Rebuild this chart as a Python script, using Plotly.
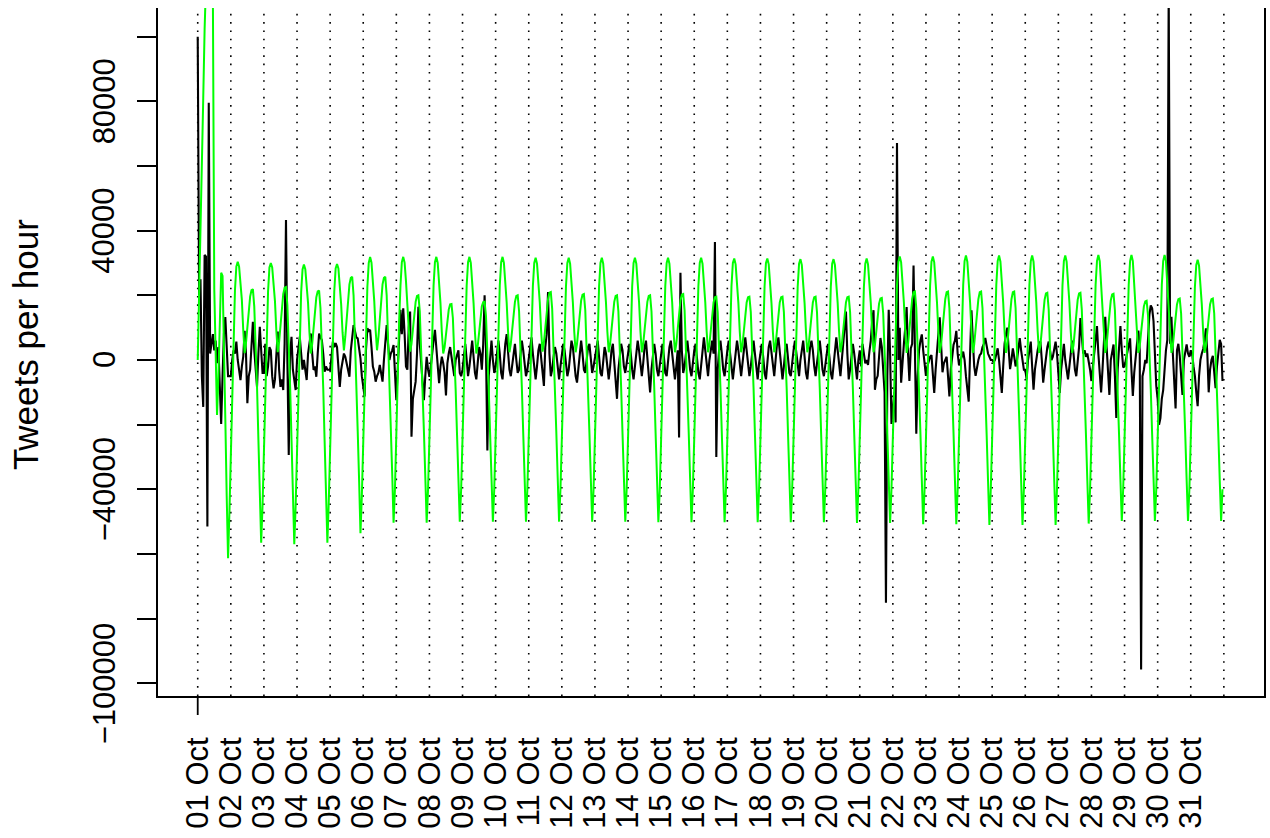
import pandas as pd
import plotly.graph_objects as go

# Hourly decomposition of tweet volume, October: remainder (black) and
# seasonal component (green). Values are in thousands of tweets per hour,
# one list of 24 hourly values per day.
remainder_by_day = [
    [100, 20, 25, -5, -14.5, 32.5, 32, -51.5, 79.6, 2, 5, 8, 3, 6, -1, 4, -8, -19.8, -5, 8, 13.3, 5, -5, -5],
    [-5, 0, 3, 2, 5.7, 0, -4, -6.2, -2, 1, 9, 2, -13.4, -5, -3, 5, 11.8, 3, -3, -8.3, 2, 10.3, 3, -4],
    [-4, 5, -5, -2, 4, 3, -5, -8.8, -6, 2, 8.8, -3, -8.3, -6, -9.3, 5, 43.3, 0, -29.4, 2, 7.2, -3, -7, -9.3],
    [0, 4, 7.2, 2, -3, 0, -3, -6.2, 2, 5, 8.2, 2, -3.1, -2, -5.2, 2, 8.2, 7, 6.2, 2, -3.6, -2, -3, -3],
    [-3.1, 1, 5.7, 4, 5.2, 4, -3, -8.3, -3, 0, 2, 1, -1, -3, -5.2, 3, 8, 10.8, 9, 7, 6.7, 4, 0.5, -5],
    [-8, -11.3, 3, 9.8, 9, 9.3, 4, -2, -3.6, -6.7, -5, -4, -1.5, -5, -6.7, 0, 6, 10.8, 5, 0, 2, 3, 4.6, -3],
    [-12.4, -3, 8, 15.5, 8, 16, 8, -2, -3, 10, 15, -23.7, -12, -9.3, -6.7, 2, 16.5, 5, -2, -8, -12.4, -5, 1, -3],
    [-5.2, -2, 3, 6, 9.3, 4, -3, -7.2, -2, 1, -1, -4, -11, -1, 2, 4, 1, -3, -5, 0, 2, 3, -4, -5],
    [-3, 2, 5, 0, -5, -2, 3, 6, 1, -4, -6, 0, 4, 2, -3, 5, 20, 3, -28, -5, 2, 6, 0, -4],
    [-2, 3, 6, 2, -4, -6, 0, 5, 8, 3, -3, -5, -1, 3, 5, 0, -4, -3, 2, 6, 3, -2, -5, -3],
    [0, 4, 7, 2, -3, -6, -2, 3, 5, 1, -4, -8, 4, 8, 21, 2, -5, -3, 1, 4, 2, -3, -6, -2],
    [2, 5, 3, -2, -5, -3, 2, 6, 4, -1, -5, -7, -2, 3, 6, 2, -3, -4, 0, 4, 5, 1, -4, -2],
    [1, 4, 6, 1, -4, -5, 0, 4, 2, -3, -6, -2, 3, 5, 0, -5, -12, -3, 2, 5, 3, -2, -4, 0],
    [2, 5, 2, -3, -6, -2, 3, 6, 3, -2, -5, -1, 4, 6, 1, -4, -10, -3, 2, 5, 2, -3, -5, -1],
    [2, 5, 1, -4, -5, 0, 4, 6, 2, -3, -6, -2, 3, -24, 27, 3, -4, -2, 3, 6, 2, -3, -5, 0],
    [3, 5, 0, -4, -6, -1, 4, 7, 3, -2, -5, 0, 4, 6, 2, 36.5, -30, -3, 3, 6, 2, -3, -5, 0],
    [3, 6, 2, -3, -6, -2, 3, 6, 3, -2, -5, -1, 4, 7, 3, -2, -5, -2, 3, 6, 2, -3, -6, -1],
    [2, 5, 1, -4, -6, -1, 4, 6, 2, -3, -5, 0, 5, 7, 2, -3, -6, -2, 3, 5, 1, -4, -5, 0],
    [3, 6, 2, -3, -5, 0, 4, 6, 1, -4, -6, -1, 4, 6, 3, -2, -5, -1, 3, 6, 2, -3, -5, -1],
    [2, 5, 1, -4, -6, -2, 3, 7, 3, -2, -5, 0, 5, 8, 15, 2, -6, -3, 2, 5, 2, -3, -6, 0],
    [3, -2, 5, 2, -1, 0, -1.5, 2.6, 6, 12, 15.4, -9.2, -6, -4.9, 2, 6.8, 4, -2, -10, -75.1, -5, 15.5, 2, -19.8],
    [-15, -10, -19.3, 67.1, 0, 10, -7, 0, 5, 10, 16.4, 2, -6.5, 3.6, 5, 29.2, 5, -22.8, -5, 3, 6, 7.9, 3, -2],
    [-4.9, -2, 0, 1, 1.5, -4, -10.2, -3, 4, 8, 13.2, 3, -3.8, -1, 0, 1, -5, -11.3, -3, 2, 4.7, 6, 9, 2],
    [-1.7, 0, 1, 2.6, 0, -5, -10, -12.9, 2, 15.4, 6, -2, -4.9, -2, 0, 1.5, 2, 4, 5, 6.8, 4, 2, 1, 0],
    [0, -0.6, 0, 2, 3.6, 0, -5, -10.2, -2, 5, 8, 10, 3, -2.8, 0, 3.6, 1, -2, 0, 4, 6.8, 3, 0, -3],
    [-3, -6, 0, 3, 5.7, -2, -9.2, -3, 1, 3, 5, 5.7, 0, -7, -3, 1, 4, 5.7, 2, 0, 1, 3, 5.7, 2],
    [-5, -10.2, -3, 2, 5, 0, -4, -6, -2, 3, 6, 2, -3, -5, 0, 4, 13, 6, 2, 3, 1, 2, 0, -3],
    [-6.5, -2, 3, 8, 10.5, 2, -4, -10, -3, 5, 13.4, 4, -3, -10.8, 0, 3, 4.8, -5, -17.9, -3, 6, 10.5, 3, -2.3],
    [-2, 0, 2, 4, 6.7, -3, -11.1, -4, 2, 5, 9.1, 3, -95.7, -5, -3, 0, -1, 8, 14, 16.9, 16, 12, 3, -8],
    [-12, -20, -18, -12, -9.3, -2, 3, 6.2, 115, 5, 13.4, 2, -8, -15, 3, 5, 1.3, -5, -10.8, 0, 3, 4.8, 2, 1],
    [3, 2, -2, -5, -10, -14.3, -5, 0, 2, 3.4, 6, 9.8, 2, -10, -3, 0, 1.3, -3, -8.7, -2, 3, 6.2, 5, -6.5],
]

seasonal_by_day = [
    [0, 18, 40, 59, 81, 102.4, 125, 140, 145, 140, 128, 112, 22, 5, -17, -5, 14, 27, 26, 8, -18, -42, -61.3, -47],
    [-28, -8, 10, 21.6, 28.9, 30.4, 28.9, 23.7, 18.6, 9.3, 2.1, 5.2, 10.3, 15.5, 19.6, 21.6, 21.9, 16.5, 5.2, -8.3, -24.7, -39.2, -56.5, -45],
    [-27, -7, 10, 21.2, 28.6, 30.0, 28.6, 23.4, 18.2, 9.0, 2.4, 5.6, 11.0, 16.2, 20.4, 22.4, 22.6, 17.0, 5.4, -8.2, -24.6, -39.6, -57.0, -45],
    [-27, -7, 10, 21.0, 28.0, 29.5, 28.1, 23.0, 17.6, 8.6, 2.0, 5.0, 10.4, 15.4, 19.4, 21.2, 21.5, 16.0, 4.6, -8.6, -25.0, -39.6, -56.5, -44],
    [-26, -6, 10.4, 21.2, 28.3, 29.7, 28.3, 23.0, 17.2, 8.6, 3.0, 7.2, 13.2, 19.0, 23.4, 25.4, 25.7, 20.0, 7.6, -6.0, -22.0, -37.0, -53.6, -42],
    [-24, -5, 11.2, 22.6, 30.0, 31.9, 30.1, 24.6, 18.2, 9.2, 3.0, 7.0, 13.0, 19.0, 23.4, 25.4, 25.7, 20.0, 7.4, -6.2, -21.0, -35.0, -50.3, -40],
    [-23, -4, 11.6, 23.0, 30.3, 31.9, 30.1, 24.4, 18.0, 9.0, 2.6, 5.0, 9.6, 14.2, 18.0, 19.8, 20.0, 15.0, 4.4, -8.0, -22.0, -36.0, -50.3, -40],
    [-23, -4, 11.6, 23.0, 30.3, 31.9, 30.0, 24.0, 17.6, 8.6, 2.0, 4.0, 8.4, 12.6, 15.6, 17.2, 17.3, 13.0, 3.0, -9.0, -23.0, -37.0, -50.0, -40],
    [-23, -4, 11.6, 23.0, 30.3, 31.9, 30.0, 24.0, 17.6, 8.6, 2.0, 4.2, 9.0, 13.2, 16.6, 17.9, 18.0, 13.6, 3.6, -9.0, -23.0, -37.0, -50.0, -40],
    [-23, -4, 11.6, 23.0, 30.3, 31.9, 30.0, 24.2, 17.8, 8.8, 2.4, 5.0, 9.6, 14.2, 18.0, 19.8, 20.0, 15.0, 4.4, -8.4, -22.6, -36.6, -50.0, -40],
    [-23, -4, 11.4, 22.8, 30.0, 31.6, 29.8, 24.0, 17.8, 8.8, 2.6, 5.4, 10.2, 15.0, 18.8, 20.8, 21.0, 15.8, 4.8, -8.2, -22.4, -36.4, -50.0, -40],
    [-23, -4, 11.4, 22.8, 30.0, 31.6, 29.8, 24.0, 17.8, 8.8, 2.4, 5.0, 9.8, 14.4, 18.4, 20.2, 20.4, 15.4, 4.6, -8.4, -22.6, -36.6, -50.0, -40],
    [-23, -4, 11.4, 22.8, 30.0, 31.6, 29.8, 24.0, 17.8, 8.8, 2.4, 5.0, 9.6, 14.2, 18.0, 19.8, 20.0, 15.0, 4.4, -8.6, -22.8, -36.8, -50.0, -40],
    [-23, -4, 11.4, 22.8, 30.0, 31.6, 29.8, 24.0, 17.8, 8.8, 2.4, 5.0, 9.6, 14.2, 18.0, 19.8, 20.0, 15.0, 4.4, -8.6, -22.8, -36.8, -50.2, -40],
    [-23, -4, 11.4, 22.8, 30.0, 31.6, 29.8, 24.0, 17.8, 8.8, 2.4, 5.0, 9.8, 14.4, 18.4, 20.2, 20.4, 15.4, 4.6, -8.4, -22.6, -36.6, -50.2, -40],
    [-23, -4, 11.4, 22.8, 30.0, 31.6, 29.8, 24.0, 17.8, 8.8, 2.4, 4.8, 9.4, 14.0, 17.8, 19.4, 19.6, 14.8, 4.2, -8.6, -22.8, -36.8, -50.2, -40],
    [-23, -4, 11.4, 22.8, 30.0, 31.4, 29.6, 23.8, 17.6, 8.8, 2.4, 4.8, 9.4, 14.0, 17.8, 19.4, 19.6, 14.8, 4.2, -8.6, -22.8, -36.8, -50.2, -40],
    [-23, -4, 11.4, 22.8, 30.0, 31.4, 29.6, 23.8, 17.6, 8.8, 2.4, 4.8, 9.4, 14.0, 17.8, 19.4, 19.6, 14.8, 4.2, -8.6, -22.8, -36.8, -50.2, -40],
    [-23, -4, 11.2, 22.6, 29.8, 31.2, 29.4, 23.6, 17.6, 8.8, 2.4, 4.8, 9.4, 14.0, 17.8, 19.4, 19.6, 14.8, 4.2, -8.6, -22.8, -36.8, -50.2, -40],
    [-23, -4, 11.2, 22.6, 29.8, 31.2, 29.4, 23.6, 17.6, 8.8, 2.4, 4.8, 9.4, 14.0, 17.8, 19.4, 19.6, 14.8, 4.2, -8.6, -22.8, -36.8, -50.4, -40],
    [-23, -4, 11.2, 22.6, 29.8, 31.4, 29.6, 23.8, 17.6, 8.8, 2.4, 4.6, 9.2, 13.8, 17.4, 19.0, 19.2, 14.4, 4.0, -8.8, -23.0, -37.0, -50.4, -40],
    [-23, -4, 11.6, 23.0, 30.4, 32.0, 30.2, 24.2, 17.8, 8.8, 2.2, 4.8, 9.8, 14.8, 18.8, 21.0, 21.2, 16.0, 4.8, -8.4, -22.8, -37.0, -50.8, -40],
    [-23, -4, 11.6, 23.0, 30.4, 32.0, 30.2, 24.2, 17.8, 8.8, 2.2, 4.8, 9.8, 14.8, 18.8, 21.0, 21.2, 16.0, 4.8, -8.4, -22.8, -37.0, -50.8, -40],
    [-23, -4, 11.8, 23.2, 30.6, 32.3, 30.4, 24.4, 17.8, 8.8, 2.2, 4.8, 9.8, 14.8, 18.8, 21.0, 21.2, 16.0, 4.8, -8.4, -23.0, -37.2, -51.0, -40],
    [-23, -4, 11.8, 23.2, 30.6, 32.3, 30.4, 24.4, 17.8, 8.8, 2.2, 4.8, 9.8, 14.8, 18.8, 21.0, 21.2, 16.0, 4.8, -8.4, -23.0, -37.2, -51.0, -40],
    [-23, -4, 11.8, 23.2, 30.6, 32.3, 30.4, 24.4, 17.8, 8.8, 2.2, 4.6, 9.6, 14.6, 18.6, 20.6, 20.8, 15.6, 4.6, -8.6, -23.0, -37.2, -51.0, -40],
    [-23, -4, 11.8, 23.2, 30.6, 32.3, 30.4, 24.4, 17.8, 8.8, 2.2, 4.6, 9.6, 14.6, 18.6, 20.6, 20.8, 15.6, 4.6, -8.6, -23.0, -37.2, -50.6, -40],
    [-23, -4, 11.8, 23.2, 30.6, 32.5, 30.6, 24.4, 17.8, 8.8, 2.2, 4.6, 9.4, 14.4, 18.4, 20.3, 20.5, 15.4, 4.4, -8.6, -23.0, -37.0, -49.8, -40],
    [-23, -4, 11.8, 23.2, 30.6, 32.5, 30.6, 24.4, 17.8, 8.8, 2.2, 4.2, 8.6, 13.2, 16.6, 18.1, 18.3, 13.8, 3.6, -9.0, -23.0, -37.0, -49.8, -40],
    [-23, -4, 11.8, 23.2, 30.6, 32.5, 30.6, 24.4, 17.8, 8.8, 2.2, 4.4, 8.8, 13.6, 17.2, 18.8, 19.0, 14.4, 3.8, -8.8, -23.0, -37.0, -49.8, -40],
    [-23, -4, 11.4, 22.6, 29.4, 31.0, 29.2, 23.4, 17.2, 8.6, 2.2, 4.4, 8.8, 13.6, 17.2, 18.8, 19.0, 14.4, 3.8, -8.8, -23.0, -37.0, -49.8, -40],
]

day_labels = [f"{d:02d} Oct" for d in range(1, 32)]
y_tick_values = list(range(-100000, 100001, 20000))
y_tick_text = {80000: "80000", 40000: "40000", 0: "0", -40000: "\u221240000", -100000: "\u2212100000"}

remainder = [v * 1000 for day in remainder_by_day for v in day]
seasonal = [v * 1000 for day in seasonal_by_day for v in day]
times = pd.date_range("2013-10-01", periods=len(remainder), freq="h")
day_starts = pd.date_range("2013-10-01", periods=32, freq="D")

FONT = "Liberation Sans, Arial, Helvetica, sans-serif"
hour = pd.Timedelta(hours=1)

fig = go.Figure()
fig.add_trace(go.Scatter(x=times, y=remainder, mode="lines",
                         line=dict(color="black", width=2.1), hoverinfo="skip"))
fig.add_trace(go.Scatter(x=times, y=seasonal, mode="lines",
                         line=dict(color="#00ff00", width=2.0), hoverinfo="skip"))

# dotted day separators
for d in day_starts:
    fig.add_shape(type="line", xref="x", yref="paper", x0=d, x1=d, y0=0, y1=1,
                  line=dict(color="black", width=1.6, dash="1.6px,6.7px"), layer="below")

# single tick mark at the start of the month
fig.add_shape(type="line", xref="x", yref="paper", x0=day_starts[0], x1=day_starts[0],
              y0=0, y1=-19 / 688, line=dict(color="black", width=1.8))

# y tick labels, written parallel to the axis
for v, t in y_tick_text.items():
    fig.add_annotation(x=-54 / 1106, xref="paper", y=v, yref="y", text=t, showarrow=False,
                       textangle=-90, xanchor="center", yanchor="middle",
                       font=dict(family=FONT, size=31, color="black"))

fig.add_annotation(x=-133 / 1106, xref="paper", y=0.51, yref="paper", text="Tweets per hour",
                   showarrow=False, textangle=-90, xanchor="center", yanchor="middle",
                   font=dict(family=FONT, size=35, color="black"))

fig.update_layout(
    width=1270, height=838,
    margin=dict(l=158, r=6, t=8, b=142, autoexpand=False),
    paper_bgcolor="white", plot_bgcolor="white",
    showlegend=False,
    font=dict(family=FONT, size=31, color="black"),
)
fig.update_xaxes(
    range=[times[0] - 28.8 * hour, times[0] + 773.1 * hour],
    tickvals=list(day_starts[:31]), ticktext=day_labels, tickangle=-90,
    ticks="", ticklen=0, ticklabelstandoff=27, automargin=False,
    tickfont=dict(family=FONT, size=31, color="black"),
    showgrid=False, zeroline=False,
    showline=True, linecolor="black", linewidth=1.8,
)
fig.update_yaxes(
    range=[-103930, 108880], automargin=False,
    tickvals=y_tick_values, ticks="outside", ticklen=19, tickwidth=1.8, tickcolor="black",
    showticklabels=False,
    showgrid=False, zeroline=False,
    showline=True, mirror=True, linecolor="black", linewidth=1.8,
)

fig.write_html("out.html")
